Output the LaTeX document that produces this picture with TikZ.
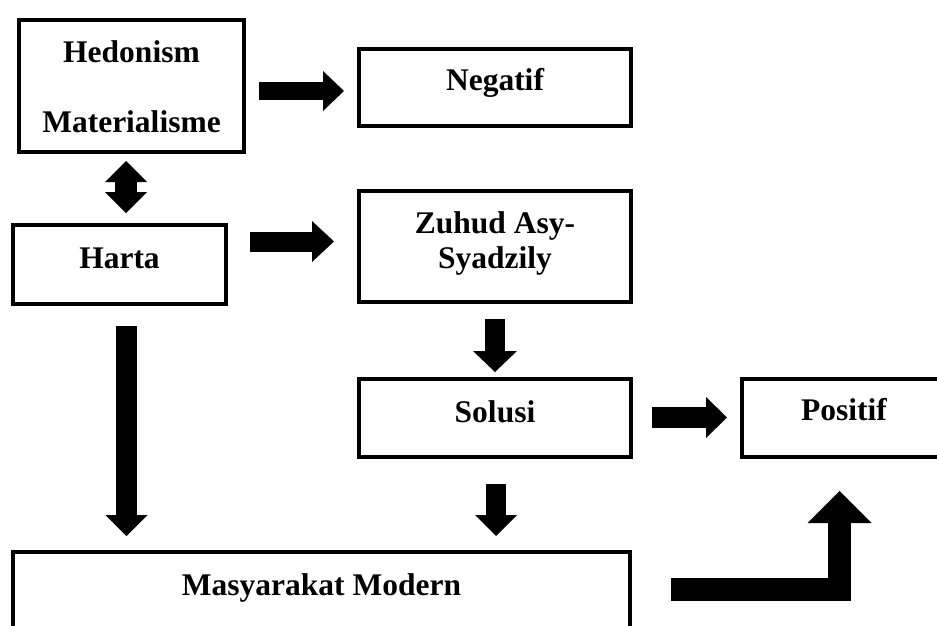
\documentclass[tikz,border=0pt]{standalone}
\usepackage{fontspec}
\setmainfont{Liberation Serif}
\usetikzlibrary{arrows.meta,calc}
\tikzset{
  box/.style={draw=black, line width=4.5pt, inner sep=0pt, outer sep=0pt, fill=none},
  lbl/.style={anchor=base, inner sep=0pt, font=\fontsize{31.5}{36}\selectfont\bfseries},
  blk/.style={draw=black, line width=#1, line cap=butt, line join=miter},
  tip/.style 2 args={-{Triangle[length=#1, width=#2, line width=0pt]}},
  dtip/.style 2 args={{Triangle[length=#1, width=#2, line width=0pt]}-{Triangle[length=#1, width=#2, line width=0pt]}}
}
\begin{document}
\begin{tikzpicture}[x=1pt, y=-1pt]
\useasboundingbox (0,0) rectangle (937,626);
\clip (0,0) rectangle (937,626);
\fill[white] (0,0) rectangle (937,626);

% boxes
\node[box, minimum width=225pt, minimum height=132pt] (hed) at (131.5,86) {};
\node[box, minimum width=272pt, minimum height=77pt] (neg) at (495,87.5) {};
\node[box, minimum width=213pt, minimum height=79pt] (harta) at (119.5,264.5) {};
\node[box, minimum width=272pt, minimum height=111pt] (zuh) at (495,246.5) {};
\node[box, minimum width=272pt, minimum height=78pt] (sol) at (495,418) {};
\node[box, minimum width=204pt, minimum height=78pt] (pos) at (844,418) {};
\node[box, minimum width=617pt, minimum height=88pt] (mas) at (321.5,596) {};

% texts
\node[lbl] (hedA) at (131.5,63) {Hedonism};
\node[lbl] (hedB) at (131.5,132) {Materialisme};
\node[lbl] (negT) at (495,91) {Negatif};
\node[lbl] (zuhA) at (495,233) {Zuhud Asy-};
\node[lbl] (zuhB) at (495,268) {Syadzily};
\node[lbl] (hartaT) at (119.5,268) {Harta};
\node[lbl] (solT) at (495,422) {Solusi};
\node[lbl] (posT) at (844,420) {Positif};
\node[lbl] (masT) at (321.5,595) {Masyarakat Modern};

% block arrows
\draw[blk=18pt, tip={21pt}{40pt}] ($(hed.east)+(15,5)$) -- ($(neg.west)+(-15,3.5)$);
\draw[blk=20pt, tip={22pt}{41pt}] ($(harta.east)+(24,-23)$) -- ($(zuh.west)+(-25,-5)$);
\draw[blk=22pt, dtip={21pt}{42pt}] ($(hed.south)+(-5.5,9)$) -- ($(harta.north)+(6.5,-12)$);
\draw[blk=20pt, tip={21pt}{44pt}] ($(zuh.south)+(0,17)$) -- ($(sol.north)+(0,-7)$);
\draw[blk=21pt, tip={21pt}{41pt}] ($(sol.east)+(21,-0.5)$) -- ($(pos.west)+(-15,-0.5)$);
\draw[blk=21pt, tip={21pt}{42pt}] ($(harta.south)+(7,22)$) -- ($(harta.south |- mas.north)+(7,-16)$);
\draw[blk=20pt, tip={21pt}{42pt}] ($(sol.south)+(1,27)$) -- ($(sol.south |- mas.north)+(1,-16)$);
\coordinate (b1) at ($(mas.east)+(41,-6.5)$);
\coordinate (b2) at ($(pos.south)+(-4.5,34)$);
\draw[blk=23pt, tip={32pt}{64pt}] (b1) -- (b1 -| b2) -- (b2);
\end{tikzpicture}
\end{document}
